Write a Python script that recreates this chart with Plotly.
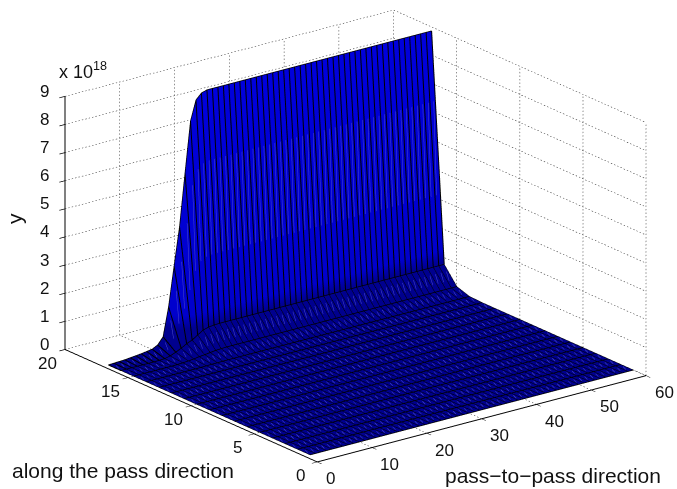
import math
import plotly.graph_objects as go

x_ticks = [0, 10, 20, 30, 40, 50, 60]
y_ticks = [0, 5, 10, 15, 20]
z_ticks = [0, 1, 2, 3, 4, 5, 6, 7, 8, 9]

x_vals = list(range(1, 61))
y_vals = list(range(1, 18))

# Heights in units of 1e18, read row by row along the pass direction
row_flat = [0.0] * 60
row_14 = [0, 0, 0, 0, 0, 0, 0, 0, 0, 0, 0, 0.005, 0.01, 0.012, 0.015, 0.018, 0.019] + [0.02] * 43
row_15 = [0, 0, 0, 0, 0, 0, 0, 0, 0.005, 0.015, 0.03, 0.05, 0.08, 0.10, 0.125, 0.15, 0.16, 0.17] + [0.17] * 42
row_16 = [0, 0, 0, 0, 0, 0, 0, 0.005, 0.015, 0.06, 0.14, 0.23, 0.34, 0.42, 0.55, 0.67, 0.73, 0.75] + [0.76] * 42
row_17 = [0, 0.01, 0.02, 0.03, 0.05, 0.07, 0.09, 0.12, 0.15, 0.25, 0.49, 1.5, 2.9, 4.25, 6.1, 7.9, 8.6, 8.8] + [8.86] * 42
z_rows = [row_flat] * 13 + [row_14, row_15, row_16, row_17]

fig = go.Figure()
fig.add_trace(go.Surface(
    x=x_vals, y=y_vals, z=z_rows, surfacecolor=z_rows, cmin=0, cmax=8.86,
    colorscale=[[0, "#00008c"], [0.09, "#000090"], [0.14, "#0000cc"], [1, "#0000dc"]],
    showscale=False, hoverinfo="skip",
    lighting=dict(ambient=1, diffuse=0, specular=0, fresnel=0, roughness=1),
))

# Mesh edges drawn from the same arrays, nudged along the line of sight so they sit on the surface
EPS = (-0.343, -0.149, 0.047)
def mesh_trace(segments, color, width):
    xs, ys, zs = [], [], []
    for pts in segments:
        for (px, py, pz) in pts:
            xs.append(px + EPS[0]); ys.append(py + EPS[1]); zs.append(pz + EPS[2])
        xs.append(None); ys.append(None); zs.append(None)
    return go.Scatter3d(x=xs, y=ys, z=zs, mode="lines", hoverinfo="skip", showlegend=False,
                        line=dict(color=color, width=width))

nx, ny = len(x_vals), len(y_vals)
row_lines = [[(x_vals[i], y_vals[j], z_rows[j][i]) for i in range(nx)] for j in range(ny)]
col_floor = [[(x_vals[i], y_vals[j], z_rows[j][i]) for j in range(ny - 1)] for i in range(nx)]
col_wall = [[(x_vals[i], y_vals[j], z_rows[j][i]) for j in (ny - 2, ny - 1)] for i in range(nx)]
seams = []
for j in range(ny - 1):
    for i in range(nx - 1):
        a = (x_vals[i], y_vals[j], z_rows[j][i])
        b = (x_vals[i + 1], y_vals[j + 1], z_rows[j + 1][i + 1])
        seams.append([tuple(a[k] + (b[k] - a[k]) * t for k in range(3)) for t in (0.3, 0.7)])
fig.add_trace(mesh_trace(seams, "#4a4acb", 1))
fig.add_trace(mesh_trace(col_floor, "#000000", 1))
fig.add_trace(mesh_trace(col_wall, "#000000", 2))
fig.add_trace(mesh_trace(row_lines, "#000000", 1.5))

# Dotted grid, broken into short strokes about 3.5 px apart on screen
PX = (5.483, 1.433)   # px per x unit
PY = (12.7, 5.65)     # px per y unit
PZ = 28.33            # px per z unit
gx, gy, gz = [], [], []
def dotted(a, b):
    dx, dy, dz = b[0] - a[0], b[1] - a[1], b[2] - a[2]
    sx = dx * PX[0] - dy * PY[0]
    sy = dx * PX[1] + dy * PY[1] + dz * PZ
    n = max(1, int(math.hypot(sx, sy) / 3.5))
    for i in range(n):
        t0, t1 = i / n, (i + 0.4) / n
        gx.extend([a[0] + dx * t0, a[0] + dx * t1, None])
        gy.extend([a[1] + dy * t0, a[1] + dy * t1, None])
        gz.extend([a[2] + dz * t0, a[2] + dz * t1, None])
for v in x_ticks:
    dotted((v, 0, 0), (v, 20, 0)); dotted((v, 20, 0), (v, 20, 9))
for v in y_ticks:
    dotted((0, v, 0), (60, v, 0)); dotted((60, v, 0), (60, v, 9))
for v in z_ticks:
    dotted((0, 20, v), (60, 20, v)); dotted((60, 20, v), (60, 0, v))
fig.add_trace(go.Scatter3d(x=gx, y=gy, z=gz, mode="lines", hoverinfo="skip", showlegend=False,
                           line=dict(color="#222222", width=1)))

axis = dict(showgrid=False, showbackground=False, showspikes=False, zeroline=False,
            showline=True, linecolor="black", linewidth=2, ticks="outside", ticklen=7,
            tickcolor="black", tickwidth=1.5, title=dict(text=""), showticklabels=False)
az = math.radians(37.5)
el = math.radians(20)
r = 2.0
S = 1.756

tick_font = dict(family="Liberation Sans", size=17, color="#111111")
title_font = dict(family="Liberation Sans", size=21, color="#111111")
scene_ann = []
for v in x_ticks:
    scene_ann.append(dict(x=v, y=0, z=0, text=str(v), showarrow=False, font=tick_font,
                          xshift=13 if v == 0 else 18, yshift=-17))
for v in y_ticks:
    scene_ann.append(dict(x=0, y=v, z=0, text=str(v), showarrow=False, font=tick_font,
                          xshift=-17, yshift=-14))
for v in z_ticks:
    scene_ann.append(dict(x=0, y=20, z=v, text=str(v), showarrow=False, font=tick_font,
                          xshift=-20, yshift=5))

def paper_note(text, px, py, font, **kw):
    return dict(text=text, x=px / 677, y=1 - py / 489, xref="paper", yref="paper", showarrow=False,
                xanchor="center", yanchor="middle", font=font, **kw)

fig.update_layout(
    width=677, height=489, paper_bgcolor="white", margin=dict(l=0, r=0, t=0, b=0),
    showlegend=False,
    scene=dict(
        domain=dict(x=[0.05, 1.0], y=[0.035, 1.0]),
        aspectmode="manual", aspectratio=dict(x=S, y=S, z=0.65 * S),
        camera=dict(projection=dict(type="orthographic"), up=dict(x=0, y=0, z=1),
                    center=dict(x=0, y=0, z=0),
                    eye=dict(x=-r * math.sin(az) * math.cos(el),
                             y=-r * math.cos(az) * math.cos(el),
                             z=r * math.sin(el))),
        xaxis=dict(axis, range=[0, 60], tickvals=x_ticks),
        yaxis=dict(axis, range=[0, 20], tickvals=y_ticks),
        zaxis=dict(axis, range=[0, 9], tickvals=z_ticks),
        annotations=scene_ann,
    ),
    annotations=[
        paper_note("y", 14, 219, title_font, textangle=-90),
        paper_note("x 10<sup>18</sup>", 83, 70, dict(family="Liberation Sans", size=18, color="#111111")),
        paper_note("along the pass direction", 122.5, 470, title_font),
        paper_note("pass\u2212to\u2212pass direction", 552.5, 475, title_font),
    ],
)
fig.write_html("out.html", config=dict(displayModeBar=False),
               post_script="document.body.style.margin='0';")
